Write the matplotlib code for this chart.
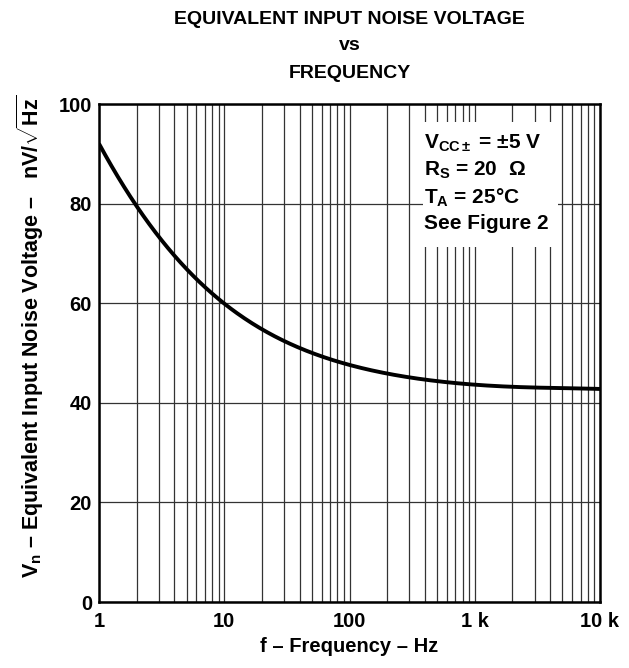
import matplotlib
matplotlib.use("Agg")
import matplotlib.pyplot as plt
import numpy as np
from matplotlib.ticker import LogLocator, NullFormatter, FixedLocator

plt.rcParams['font.family'] = ['Liberation Sans', 'DejaVu Sans']
plt.rcParams['font.weight'] = 'bold'
plt.rcParams['mathtext.fontset'] = 'custom'
plt.rcParams['mathtext.rm'] = 'Liberation Sans:bold'
plt.rcParams['mathtext.bf'] = 'Liberation Sans:bold'
plt.rcParams['mathtext.it'] = 'Liberation Sans:bold'

# curve
freq_hz = [1, 1.5, 2, 3, 5, 7, 10, 15, 20, 30, 50, 100, 200, 300, 500, 1000, 2000, 5000, 10000]
noise_nv = [91.8, 84.7, 80.0, 72.4, 67.0, 63.3, 60.0, 56.6, 55.2, 52.3, 49.9, 47.6, 45.8, 45.1, 44.4, 43.7, 43.2, 42.9, 42.8]

x_ticks = [1, 10, 100, 1000, 10000]
x_labels = ['1', '10', '100', '1 k', '10 k']
y_ticks = [0, 20, 40, 60, 80, 100]

fig = plt.figure(figsize=(6.29, 6.68), dpi=100)
ax = fig.add_axes([99 / 629, 1 - 602 / 668, 501 / 629, 498 / 668])

# smooth through the read points in log-f space
lf = np.log10(freq_hz)
fine = np.linspace(lf[0], lf[-1], 400)
coef = np.polyfit(lf, noise_nv, 6)
ax.plot(10 ** fine, np.polyval(coef, fine), color='black', lw=2.8, zorder=3, solid_capstyle='butt')

ax.set_xscale('log')
ax.set_xlim(1, 10000)
ax.set_ylim(0, 100)
ax.xaxis.set_major_locator(FixedLocator(x_ticks))
ax.set_xticklabels(x_labels)
ax.xaxis.set_minor_locator(LogLocator(base=10, subs=np.arange(2, 10)))
ax.xaxis.set_minor_formatter(NullFormatter())
ax.set_yticks(y_ticks)

ax.grid(True, which='both', axis='x', color='#333333', lw=0.9)
ax.grid(True, which='major', axis='y', color='#333333', lw=0.9)
ax.tick_params(which='both', length=0, labelsize=14.5, pad=5)
ax.tick_params(axis='x', pad=7)
for s in ax.spines.values():
    s.set_linewidth(1.8)

for lab in ax.get_xticklabels() + ax.get_yticklabels():
    lab.set_fontweight('bold')

# white box behind the conditions text
box = plt.Rectangle(((423 - 99) / 501, (602 - 247) / 498), 135 / 501, 125 / 498,
                    transform=ax.transAxes, facecolor='white', edgecolor='none', zorder=2.5)
ax.add_patch(box)

ax.text((424 - 99) / 501, (602 - 133) / 498,
        '$\\mathregular{V_{CC\\pm}}$ = ±5 V\n'
        '$\\mathregular{R_S}$ = 20  Ω\n'
        '$\\mathregular{T_A}$ = 25°C\n'
        'See Figure 2',
        transform=ax.transAxes, ha='left', va='top', fontsize=15,
        fontweight='bold', linespacing=1.33, zorder=4)

fig.text(349.5 / 629, 1 - 20 / 668, 'EQUIVALENT INPUT NOISE VOLTAGE', ha='center', va='center', fontsize=14, fontweight='bold')
fig.text(349.5 / 629, 1 - 46 / 668, 'vs', ha='center', va='center', fontsize=14, fontweight='bold')
fig.text(349.5 / 629, 1 - 74 / 668, 'FREQUENCY', ha='center', va='center', fontsize=14, fontweight='bold')

fig.text(349.5 / 629, 1 - 647 / 668, 'f – Frequency – Hz', ha='center', va='center', fontsize=14.5, fontweight='bold')
fig.text(30 / 629, 1 - 336 / 668,
         '$\\mathregular{V_n}$ – Equivalent Input Noise Voltage –   nV/$\\sqrt{\\mathregular{Hz}}$',
         ha='center', va='center', rotation=90, fontsize=15.5, fontweight='bold')

fig.savefig('out.png', dpi=100)
